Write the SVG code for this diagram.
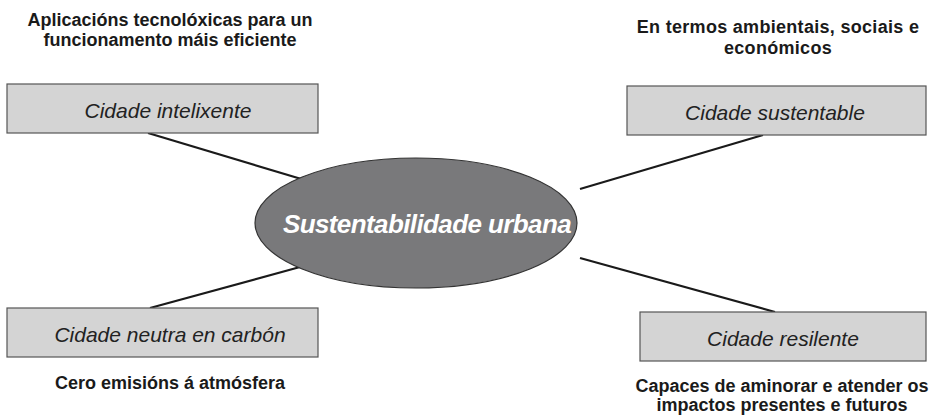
<svg xmlns="http://www.w3.org/2000/svg" width="947" height="415" viewBox="0 0 947 415">
<style>
.box{fill:#d4d4d4;stroke:#555;stroke-width:1.2}
.lbl{font-family:"Liberation Sans",Arial,sans-serif;font-style:italic;font-size:21px;fill:#222;text-anchor:middle}
.note{font-family:"Liberation Sans",Arial,sans-serif;font-weight:bold;font-size:18px;fill:#1a1a1a;text-anchor:middle}
.edge{stroke:#1a1a1a;stroke-width:2.2;fill:none}
</style>
<rect width="947" height="415" fill="#fff"/>
<g id="connectors">
<line class="edge" x1="148" y1="133" x2="308" y2="181"/>
<line class="edge" x1="763" y1="135" x2="580" y2="189"/>
<line class="edge" x1="150" y1="308" x2="300" y2="267"/>
<line class="edge" x1="775" y1="312" x2="580" y2="258"/>
</g>
<g id="center">
<ellipse cx="416" cy="223" rx="161" ry="65" fill="#79797b" stroke="#333" stroke-width="1.2"/>
<text x="427" y="233" font-family="Liberation Sans,Arial,sans-serif" font-weight="bold" font-style="italic" font-size="26" fill="#fff" text-anchor="middle" letter-spacing="-0.6">Sustentabilidade urbana</text>
</g>
<g id="n1">
<rect class="box" x="7" y="84" width="311" height="49"/>
<text class="lbl" x="168" y="118">Cidade intelixente</text>
<text class="note" x="170" y="26">Aplicacións tecnolóxicas para un</text>
<text class="note" x="170" y="46">funcionamento máis eficiente</text>
</g>
<g id="n2">
<rect class="box" x="627" y="86" width="299" height="49"/>
<text class="lbl" x="775" y="120">Cidade sustentable</text>
<text class="note" x="778" y="33" letter-spacing="0.3">En termos ambientais, sociais e</text>
<text class="note" x="778" y="54" letter-spacing="0.3">económicos</text>
</g>
<g id="n3">
<rect class="box" x="7" y="308" width="311" height="49"/>
<text class="lbl" x="170" y="342">Cidade neutra en carbón</text>
<text class="note" x="170" y="389">Cero emisións á atmósfera</text>
</g>
<g id="n4">
<rect class="box" x="640" y="312" width="286" height="49"/>
<text class="lbl" x="783" y="346">Cidade resilente</text>
<text class="note" x="782" y="392">Capaces de aminorar e atender os</text>
<text class="note" x="782" y="411">impactos presentes e futuros</text>
</g>
</svg>
